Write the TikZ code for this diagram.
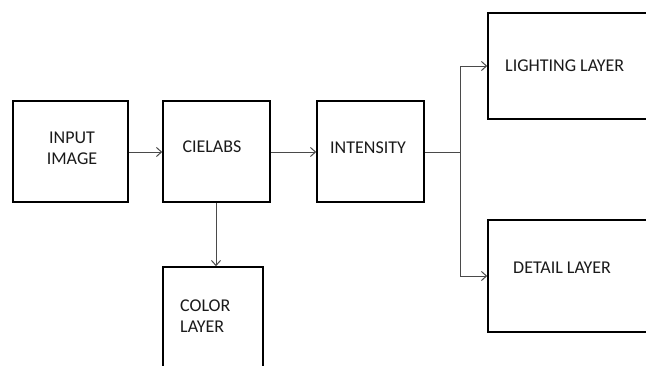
\documentclass[tikz,border=0pt]{standalone}
\usepackage{fontspec}
\setmainfont{Carlito}
\usetikzlibrary{arrows.meta}
\definecolor{conn}{HTML}{4A4A4A}
\definecolor{txt}{HTML}{1A1A1A}
\begin{document}
\begin{tikzpicture}[x=1pt,y=-1pt,
  blk/.style={draw=black,line width=1.6pt,minimum width=#1,inner sep=0pt},
  lbl/.style={font=\fontsize{18}{21}\selectfont,text=txt,inner sep=0pt,align=left},
  conn/.style={draw=conn,line width=1pt},
  arr/.style={conn,-{Straight Barb[length=5pt,width=9pt,line width=1pt]}}]
\clip (0,0) rectangle (646,365);
\fill[white] (0,0) rectangle (646,365);
% boxes
\node[blk=115pt,minimum height=101pt] (in) at (70.5,151.5) {};
\node[blk=107pt,minimum height=101pt] (cie) at (216.5,151.5) {};
\node[blk=107pt,minimum height=101pt] (int) at (370.5,151.5) {};
\node[blk=170pt,minimum height=106pt] (light) at (573,66) {};
\node[blk=170pt,minimum height=112pt] (detail) at (573,276) {};
\node[blk=100pt,minimum height=110pt] (color) at (213,322) {};
% labels
\node[lbl,align=center] (tin) at (72,148.5) {INPUT\\IMAGE};
\node[lbl] (tcie) at (212,147) {CIELABS};
\node[lbl] (tint) at (368,148) {INTENSITY};
\node[lbl,anchor=west] (tlight) at (505,66) {LIGHTING LAYER};
\node[lbl,anchor=west] (tdetail) at (513,267.5) {DETAIL LAYER};
\node[lbl,anchor=west] (tcolor) at (180,316.5) {COLOR\\LAYER};
% connectors
\coordinate (split) at (460,152);
\draw[arr] (in.east |- 0,152) -- (cie.west |- 0,152);
\draw[arr] (cie.east |- 0,152) -- (int.west |- 0,152);
\draw[arr] (cie.south -| 216,0) -- (color.north -| 216,0);
\draw[conn] (int.east |- split) -- (split);
\draw[arr] (split) |- (light.west |- 0,66);
\draw[arr] (split) |- (detail.west |- 0,276);
\end{tikzpicture}
\end{document}
